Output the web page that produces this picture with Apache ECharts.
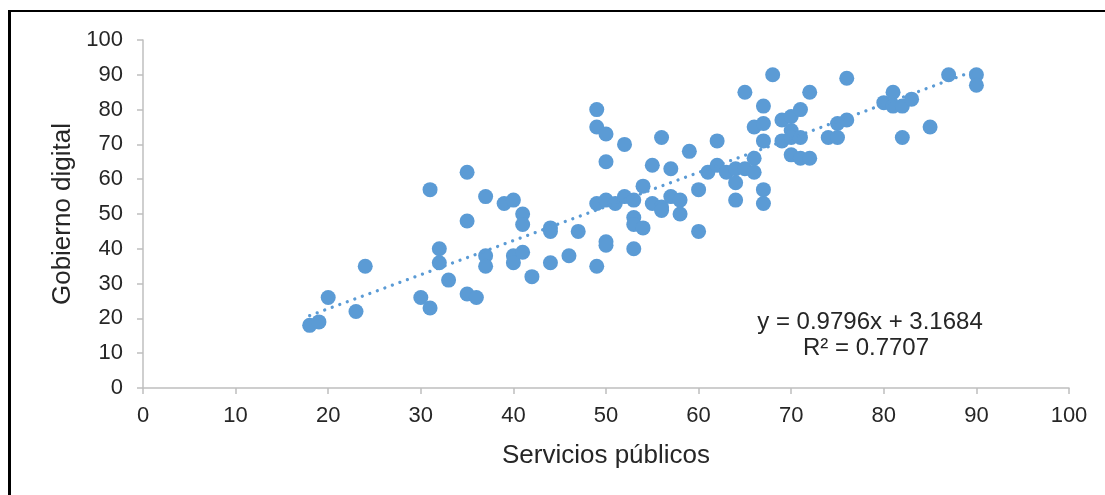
<!DOCTYPE html>
<html>
<head>
<meta charset="utf-8">
<script src="https://cdn.jsdelivr.net/npm/echarts@6/dist/echarts.min.js"></script>
<style>
  html, body { margin: 0; padding: 0; background: #fff; }
  #chart { width: 1105px; height: 495px; position: relative; }
  #frame { position: absolute; left: 8px; top: 10px; width: 1200px; height: 600px;
           border-top: 2.5px solid #000; border-left: 3px solid #000; pointer-events: none; }
</style>
</head>
<body>
<div id="chart"></div>
<div id="frame"></div>
<script>
// Servicios públicos (x) and Gobierno digital (y)
const serviciosPublicos = [
  18,19,20,23,24,30,31,31,32,32,33,35,35,35,36,37,37,37,39,40,40,40,41,41,41,42,44,44,44,46,47,
  49,49,49,49,50,50,50,50,50,51,52,52,53,53,53,53,54,54,55,55,56,56,56,57,57,58,58,59,60,60,
  61,62,62,63,64,64,64,65,65,66,66,66,67,67,67,67,67,68,69,69,70,70,70,70,71,71,71,72,72,
  74,75,75,76,76,80,81,81,82,82,83,85,87,90,90
];
const gobiernoDigital = [
  18,19,26,22,35,26,57,23,40,36,31,62,48,27,26,55,38,35,53,54,38,36,50,47,39,32,46,45,36,38,45,
  80,75,53,35,73,65,54,42,41,53,70,55,54,49,47,40,58,46,64,53,72,52,51,63,55,54,50,68,57,45,
  62,71,64,62,63,59,54,85,63,75,66,62,81,76,71,57,53,90,77,71,78,74,67,72,80,72,66,85,66,
  72,72,76,89,77,82,85,81,81,72,83,75,90,90,87
];
const axisTicks = [0, 10, 20, 30, 40, 50, 60, 70, 80, 90, 100];
const trendSlope = 0.9796;
const trendIntercept = 3.1684;
const equationText = 'y = 0.9796x + 3.1684';
const r2Text = 'R² = 0.7707';
const xAxisTitle = 'Servicios públicos';
const yAxisTitle = 'Gobierno digital';

const points = serviciosPublicos.map((x, i) => [x, gobiernoDigital[i]]);
const xMin = Math.min(...serviciosPublicos);
const xMax = Math.max(...serviciosPublicos);
const trend = [[xMin, trendSlope * xMin + trendIntercept], [xMax, trendSlope * xMax + trendIntercept]];

const chart = echarts.init(document.getElementById('chart'), null, { renderer: 'canvas' });
const font = 'Liberation Sans, Arial, sans-serif';
const axisCommon = {
  type: 'value', min: axisTicks[0], max: axisTicks[axisTicks.length - 1], interval: 10,
  splitLine: { show: false },
  axisLine: { show: true, lineStyle: { color: '#BFBFBF', width: 1.5 } },
  axisTick: { show: true, length: 6, lineStyle: { color: '#BFBFBF', width: 1.5 } },
  nameLocation: 'middle',
  nameTextStyle: { fontFamily: font, fontSize: 26, color: '#262626' }
};
chart.setOption({
  animation: false,
  backgroundColor: '#fff',
  grid: { left: 143, right: 36, top: 40, bottom: 107 },
  xAxis: Object.assign({}, axisCommon, {
    name: xAxisTitle, nameGap: 55,
    axisLabel: { fontFamily: font, fontSize: 22, color: '#262626', margin: 17 }
  }),
  yAxis: Object.assign({}, axisCommon, {
    name: yAxisTitle, nameGap: 67, nameRotate: 90,
    axisLabel: { fontFamily: font, fontSize: 22, color: '#262626', margin: 20 }
  }),
  series: [
    {
      type: 'scatter', data: points, symbol: 'circle', symbolSize: 15,
      itemStyle: { color: '#5B9BD5', opacity: 1 }, z: 2
    },
    {
      type: 'line', data: trend, showSymbol: false, silent: true, z: 3,
      lineStyle: { color: '#5B9BD5', width: 3.3, type: [0.01, 8], cap: 'round' }
    }
  ],
  graphic: [
    { type: 'text', x: 870, y: 322,
      style: { text: equationText, font: '24px ' + font, fill: '#262626', align: 'center', verticalAlign: 'middle' } },
    { type: 'text', x: 866, y: 348,
      style: { text: r2Text, font: '24px ' + font, fill: '#262626', align: 'center', verticalAlign: 'middle' } }
  ]
});
</script>
</body>
</html>
